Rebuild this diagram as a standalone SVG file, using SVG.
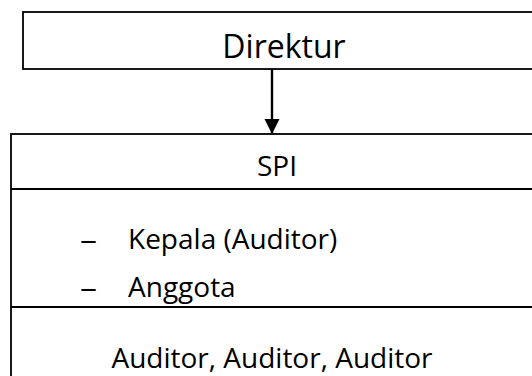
<svg xmlns="http://www.w3.org/2000/svg" width="532" height="376" viewBox="0 0 532 376">
  <style>
    .box { fill: #fff; stroke: #000; stroke-width: 1.8; }
    .rule { stroke: #000; stroke-width: 1.8; }
    .link { stroke: #000; stroke-width: 2.4; }
    .label { font-family: "Open Sans", "Noto Sans", sans-serif; fill: #000; }
    .mid { text-anchor: middle; }
  </style>
  <defs>
    <marker id="arrowhead" markerWidth="16" markerHeight="16" refX="15" refY="8" orient="auto" markerUnits="userSpaceOnUse">
      <path d="M0,0.5 L15,8 L0,15.5 Z" fill="#000"/>
    </marker>
  </defs>

  <rect width="532" height="376" fill="#fff"/>

  <!-- top box -->
  <g id="direktur">
    <rect class="box" x="23" y="12" width="530" height="57"/>
    <text class="label mid" x="284" y="58" font-size="32">Direktur</text>
  </g>

  <!-- unit box with three compartments -->
  <g id="spi">
    <rect class="box" x="11" y="134" width="540" height="260"/>
    <line class="rule" x1="11" y1="189" x2="540" y2="189"/>
    <line class="rule" x1="11" y1="307" x2="540" y2="307"/>
    <text class="label mid" x="277" y="176" font-size="28">SPI</text>
    <text class="label" x="80" y="249" font-size="28" textLength="17" lengthAdjust="spacingAndGlyphs">–</text>
    <text class="label" x="128" y="249" font-size="28">Kepala (Auditor)</text>
    <text class="label" x="80" y="297" font-size="28" textLength="17" lengthAdjust="spacingAndGlyphs">–</text>
    <text class="label" x="128" y="297" font-size="28">Anggota</text>
    <text class="label mid" x="272" y="368" font-size="28">Auditor, Auditor, Auditor</text>
  </g>

  <g id="connectors">
    <line class="link" x1="272" y1="69" x2="272" y2="134" marker-end="url(#arrowhead)"/>
  </g>
</svg>
